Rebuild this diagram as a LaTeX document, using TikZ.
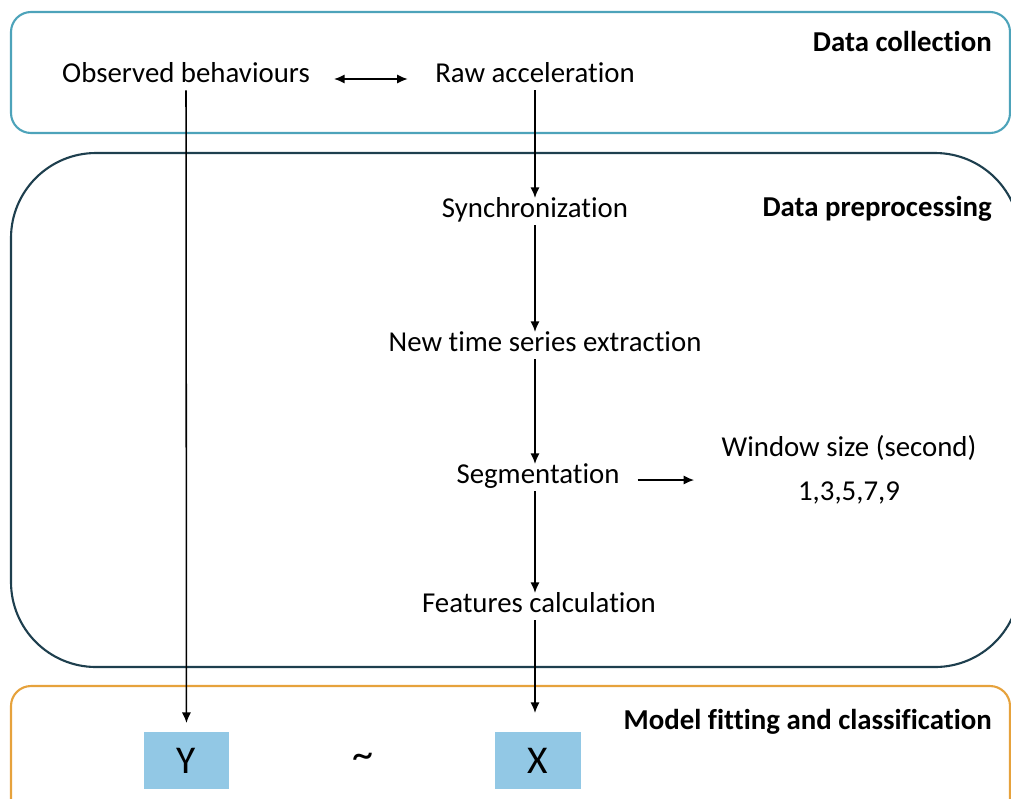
\documentclass[tikz,border=0pt]{standalone}
\usepackage{fontspec}
\setmainfont{Carlito}[Ligatures=NoCommon]
\usetikzlibrary{arrows.meta}
\definecolor{collect}{HTML}{4DA3BA}
\definecolor{prep}{HTML}{1E3F4E}
\definecolor{model}{HTML}{E6A23C}
\definecolor{varfill}{HTML}{92C8E5}

\begin{document}
\begin{tikzpicture}[x=0.025cm,y=-0.025cm,
  lbl/.style={font=\fontsize{20.5pt}{24pt}\selectfont,inner sep=0pt,text height=0.75em,text depth=0.25em},
  ttl/.style={font=\fontsize{20.5pt}{24pt}\selectfont\bfseries,anchor=east,inner sep=0pt},
  varbox/.style={fill=varfill,minimum width=2.125cm,minimum height=1.42cm,font=\fontsize{28pt}{32pt}\selectfont,inner sep=0pt},
  arr/.style={-{Latex[length=7.5pt,width=6.5pt]},line width=1.1pt,shorten <=0.1cm,shorten >=0.22cm},
  frame/.style={line width=1.5pt}]
\useasboundingbox (0,0) rectangle (1011,798);
\draw[frame,collect,rounded corners=0.5cm] (11,12) rectangle (1010,133);
\draw[frame,prep,rounded corners=2.125cm] (11,153) rectangle (1020,667);
\draw[frame,model,rounded corners=0.5cm] (11,686) rectangle (1010,840);
\node[ttl] (tcollect) at (992,41) {Data collection};
\node[ttl] (tprep) at (992,209) {Data preprocessing};
\node[ttl] (tmodel) at (992,722) {Model fitting and classification};
\node[lbl] (obs) at (186,79) {Observed behaviours};
\node[lbl] (raw) at (535,79) {Raw acceleration};
\node[lbl] (sync) at (535,214) {Synchronization};
\node[lbl] (nts) at (545,348) {New time series extraction};
\node[lbl] (seg) at (538,480) {Segmentation};
\node[lbl] (feat) at (539,609) {Features calculation};
\node[font=\fontsize{20.5pt}{31pt}\selectfont,align=center,inner sep=0pt] (win) at (849,470) {Window size (second)\\1,3,5,7,9};
\node[varbox] (Y) at (186.5,760.5) {Y};
\node[varbox] (X) at (538,760.5) {X};
\node[font=\fontsize{30pt}{34pt}\selectfont] (tilde) at (363,761) {\char`\~};
\draw[arr,{Latex[length=7.5pt,width=6.5pt]}-{Latex[length=7.5pt,width=6.5pt]},shorten <=0.6cm,shorten >=0.68cm] (obs) -- (raw);
\draw[arr] (obs) -- (Y);
\draw[arr] (raw.south -| sync) -- (sync);
\draw[arr] (sync.south) -- (sync.south |- nts.north);
\draw[arr] (sync.south |- nts.south) -- (sync.south |- seg.north);
\draw[arr] (sync.south |- seg.south) -- (sync.south |- feat.north);
\draw[arr,shorten >=0.47cm] (sync.south |- feat.south) -- (sync.south |- X.north);
\draw[arr,shorten <=0.45cm,shorten >=0.68cm] (seg.east) -- (seg.east -| win.west);
\end{tikzpicture}
\end{document}
